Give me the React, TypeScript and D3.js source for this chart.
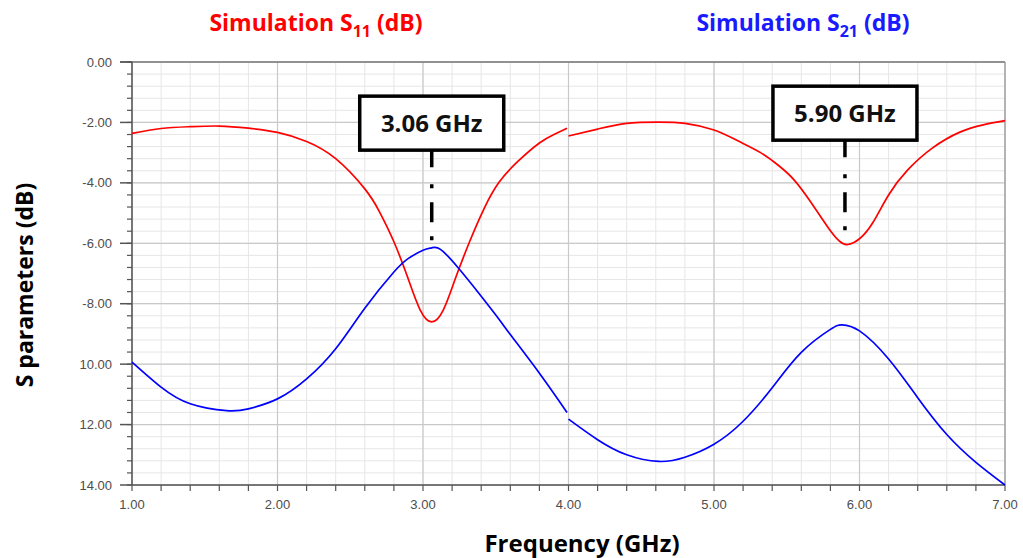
import * as d3 from "d3";
import React, { useRef, useEffect } from "react";

// simulated S-parameters, two sweeps (gap at 4 GHz)
const freqA = [1.0, 1.2, 1.4, 1.6, 1.8, 2.0, 2.2, 2.4, 2.6, 2.7, 2.8, 2.9, 2.98, 3.06, 3.14, 3.22, 3.32, 3.42, 3.52, 3.65, 3.8, 3.9, 3.99];
const s11A = [-2.36, -2.2, -2.14, -2.12, -2.19, -2.33, -2.63, -3.2, -4.2, -4.95, -5.95, -7.2, -8.2, -8.6, -8.2, -7.2, -5.95, -4.85, -4.0, -3.3, -2.68, -2.4, -2.19];
const freqA2 = [1.0, 1.2, 1.4, 1.65, 1.8, 2.0, 2.2, 2.4, 2.6, 2.8, 2.9, 3.0, 3.06, 3.12, 3.24, 3.4, 3.53, 3.6, 3.8, 3.99];
const s21A = [-9.93, -10.76, -11.31, -11.54, -11.48, -11.15, -10.49, -9.49, -8.15, -6.95, -6.5, -6.23, -6.15, -6.2, -6.8, -7.75, -8.56, -9.02, -10.3, -11.6];

const freqB = [4.0, 4.2, 4.4, 4.62, 4.8, 5.0, 5.16, 5.32, 5.45, 5.55, 5.66, 5.78, 5.86, 5.92, 6.0, 6.09, 6.2, 6.33, 6.5, 6.69, 6.85, 7.0];
const s11B = [-2.45, -2.22, -2.03, -1.99, -2.03, -2.25, -2.6, -3.0, -3.45, -3.9, -4.6, -5.45, -5.92, -6.04, -5.85, -5.33, -4.4, -3.58, -2.85, -2.32, -2.08, -1.94];
const freqB2 = [4.0, 4.2, 4.4, 4.62, 4.8, 5.0, 5.2, 5.4, 5.6, 5.8, 5.88, 6.0, 6.2, 6.4, 6.6, 6.8, 7.0];
const s21B = [-11.82, -12.5, -13.0, -13.22, -13.08, -12.65, -11.89, -10.78, -9.61, -8.85, -8.7, -8.9, -9.83, -11.11, -12.33, -13.25, -14.0];

const xTicks = [1, 2, 3, 4, 5, 6, 7];
const xTickLabels = ["1.00", "2.00", "3.00", "4.00", "5.00", "6.00", "7.00"];
const yTicks = [0, -2, -4, -6, -8, -10, -12, -14];
const yTickLabels = ["0.00", "-2.00", "-4.00", "-6.00", "-8.00", "10.00", "12.00", "14.00"];

const markerFreqs = [3.06, 5.9];
const markerLabels = ["3.06 GHz", "5.90 GHz"];
const markerBoxTop = [-1.13, -0.8];
const markerLineEnd = [-6.05, -5.6];

const FONT = "'Open Sans', 'Noto Sans', sans-serif";

function SParamChart() {
  const ref = useRef(null);

  useEffect(() => {
    const svg = d3.select(ref.current);
    svg.selectAll("*").remove();

    const x = d3.scaleLinear().domain([1, 7]).range([132, 1005]);
    const y = d3.scaleLinear().domain([0, -14]).range([62, 485]);

    // grid
    const grid = svg.append("g");
    const vMinor = d3.range(0, 31).map(i => 1 + i * 0.2);
    const hMinor = d3.range(0, 36).map(i => -i * 0.4);
    grid.selectAll(".vmin").data(vMinor).enter().append("line")
      .attr("x1", d => x(d)).attr("x2", d => x(d))
      .attr("y1", y(0)).attr("y2", y(-14))
      .attr("stroke", "#e6e6e6").attr("stroke-width", 1);
    grid.selectAll(".hmin").data(hMinor).enter().append("line")
      .attr("x1", x(1)).attr("x2", x(7))
      .attr("y1", d => y(d)).attr("y2", d => y(d))
      .attr("stroke", "#e6e6e6").attr("stroke-width", 1);
    grid.selectAll(".vmaj").data(xTicks).enter().append("line")
      .attr("x1", d => x(d)).attr("x2", d => x(d))
      .attr("y1", y(0)).attr("y2", y(-14))
      .attr("stroke", "#c9c9c9").attr("stroke-width", 1.2);
    grid.selectAll(".hmaj").data(yTicks).enter().append("line")
      .attr("x1", x(1)).attr("x2", x(7))
      .attr("y1", d => y(d)).attr("y2", d => y(d))
      .attr("stroke", "#c9c9c9").attr("stroke-width", 1.2);

    // frame top + right
    svg.append("line").attr("x1", 120).attr("x2", x(7)).attr("y1", y(0)).attr("y2", y(0))
      .attr("stroke", "#777").attr("stroke-width", 1.5);
    svg.append("line").attr("x1", x(7)).attr("x2", x(7)).attr("y1", y(0)).attr("y2", y(-14))
      .attr("stroke", "#999").attr("stroke-width", 1.2);

    // left axis
    const axL = svg.append("g");
    axL.append("line").attr("x1", x(1)).attr("x2", x(1)).attr("y1", y(0)).attr("y2", y(-14))
      .attr("stroke", "#555").attr("stroke-width", 1.5);
    axL.selectAll(".mt").data(hMinor).enter().append("line")
      .attr("x1", x(1) - 5).attr("x2", x(1))
      .attr("y1", d => y(d)).attr("y2", d => y(d))
      .attr("stroke", "#555").attr("stroke-width", 1.2);
    axL.selectAll(".Mt").data(yTicks).enter().append("line")
      .attr("x1", x(1) - 12).attr("x2", x(1))
      .attr("y1", d => y(d)).attr("y2", d => y(d))
      .attr("stroke", "#555").attr("stroke-width", 1.5);
    axL.selectAll("text").data(yTicks).enter().append("text")
      .attr("x", 112).attr("y", d => y(d) + 4.5)
      .attr("text-anchor", "end")
      .style("font-family", "'Liberation Sans', Arial, sans-serif")
      .style("font-size", "13px").style("fill", "#4d4d4d")
      .text((d, i) => yTickLabels[i]);

    // bottom axis
    const axB = svg.append("g");
    axB.append("line").attr("x1", x(1)).attr("x2", x(7)).attr("y1", y(-14)).attr("y2", y(-14))
      .attr("stroke", "#555").attr("stroke-width", 1.5);
    axB.selectAll(".mt").data(vMinor).enter().append("line")
      .attr("x1", d => x(d)).attr("x2", d => x(d))
      .attr("y1", y(-14)).attr("y2", y(-14) + 6)
      .attr("stroke", "#555").attr("stroke-width", 1.2);
    axB.selectAll("text").data(xTicks).enter().append("text")
      .attr("x", d => x(d)).attr("y", 509)
      .attr("text-anchor", "middle")
      .style("font-family", "'Liberation Sans', Arial, sans-serif")
      .style("font-size", "13px").style("fill", "#4d4d4d")
      .text((d, i) => xTickLabels[i]);

    // curves
    const line = d3.line().x(d => x(d[0])).y(d => y(d[1])).curve(d3.curveNatural);
    const series = [
      { f: freqA, v: s11A, c: "#ff0000" },
      { f: freqB, v: s11B, c: "#ff0000" },
      { f: freqA2, v: s21A, c: "#0000ff" },
      { f: freqB2, v: s21B, c: "#0000ff" },
    ];
    series.forEach(s => {
      svg.append("path")
        .datum(s.f.map((f, i) => [f, s.v[i]]))
        .attr("d", line)
        .attr("fill", "none")
        .attr("stroke", s.c)
        .attr("stroke-width", 1.7);
    });

    // markers
    markerFreqs.forEach((f, i) => {
      const cx = x(f);
      const top = y(markerBoxTop[i]);
      svg.append("line")
        .attr("x1", cx).attr("x2", cx)
        .attr("y1", top + 54).attr("y2", y(markerLineEnd[i]))
        .attr("stroke", "#000").attr("stroke-width", 3.5)
        .attr("stroke-dasharray", "17 17 4 14 20 14 4 100");
      svg.append("rect")
        .attr("x", cx - 72).attr("y", top)
        .attr("width", 144).attr("height", 54)
        .attr("fill", "#fff").attr("stroke", "#000").attr("stroke-width", 3.5);
      svg.append("text")
        .attr("x", cx).attr("y", top + 36)
        .attr("text-anchor", "middle")
        .style("font-family", FONT).style("font-weight", 700)
        .style("font-size", "24px").style("fill", "#111")
        .text(markerLabels[i]);
    });

    // titles
    const title = (cx, color, sub) => {
      const t = svg.append("text")
        .attr("x", cx).attr("y", 31)
        .attr("text-anchor", "middle")
        .style("font-family", FONT).style("font-weight", 700)
        .style("font-size", "23px").style("fill", color);
      t.append("tspan").text("Simulation S");
      t.append("tspan").attr("dy", 6).style("font-size", "16px").text(sub);
      t.append("tspan").attr("dy", -6).text(" (dB)");
    };
    title(316, "#ff0000", "11");
    title(803, "#1a1aff", "21");

    svg.append("text")
      .attr("transform", "translate(33,285) rotate(-90)")
      .attr("text-anchor", "middle")
      .style("font-family", FONT).style("font-weight", 700)
      .style("font-size", "23px").style("fill", "#000")
      .text("S parameters (dB)");

    svg.append("text")
      .attr("x", 582).attr("y", 552)
      .attr("text-anchor", "middle")
      .style("font-family", FONT).style("font-weight", 700)
      .style("font-size", "24px").style("fill", "#000")
      .text("Frequency (GHz)");
  }, []);

  return <svg ref={ref} width={1023} height={558} style={{ position: "absolute", left: 0, top: 0, background: "#fff" }}></svg>;
}

export default function App() {
  return (
    <div>
      <SParamChart />
    </div>
  );
}
